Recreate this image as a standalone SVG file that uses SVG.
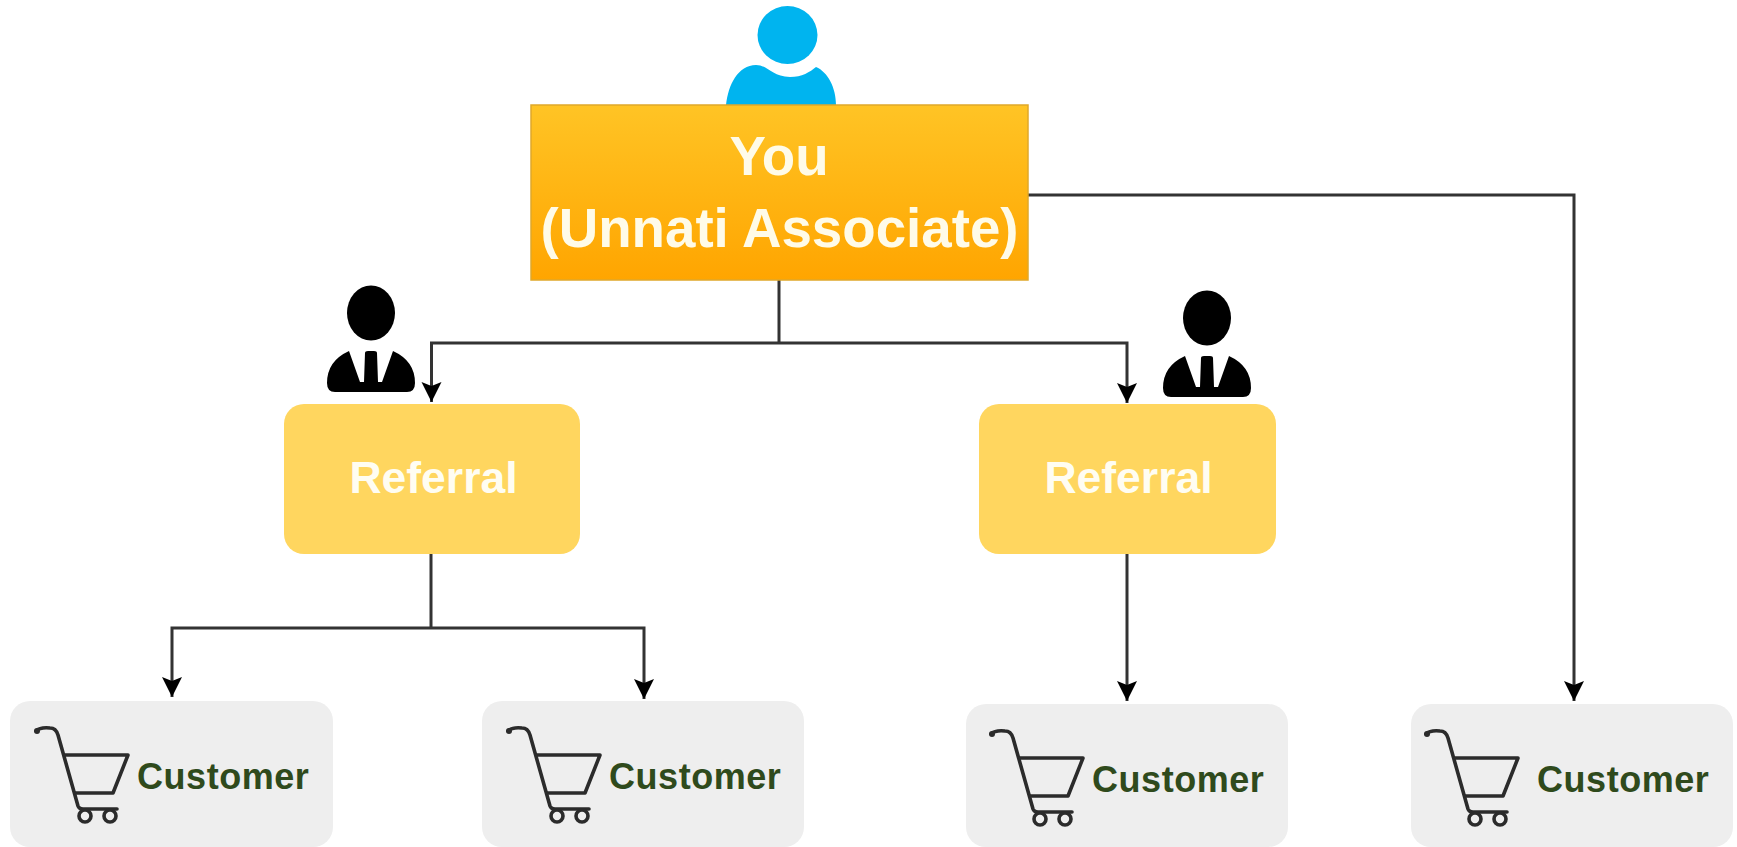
<svg xmlns="http://www.w3.org/2000/svg" xmlns:xlink="http://www.w3.org/1999/xlink" width="1737" height="847" viewBox="0 0 1737 847">
<style>
text{font-family:"Liberation Sans",Arial,sans-serif;font-weight:bold;text-anchor:middle}
.main{font-size:54.7px;fill:#fffbe8}
.ref{fill:#ffd65f}
.reft{font-size:44.5px;fill:#fffdf2}
.cust{fill:#eeeeee}
.custt{font-size:36px;letter-spacing:.55px;fill:#2f4a1c;text-anchor:start}
.conn{fill:none;stroke:#333;stroke-width:3}
.cart{fill:none;stroke:#2b2b2b;stroke-width:3.6;stroke-linejoin:round;stroke-linecap:round}
</style>
<defs>
<linearGradient id="g" x1="0" y1="0" x2="0" y2="1"><stop offset="0" stop-color="#ffc425"/><stop offset="1" stop-color="#ffa500"/></linearGradient>
<marker id="a" markerUnits="userSpaceOnUse" markerWidth="22" markerHeight="22" refX="21" refY="11" orient="auto"><path d="M21 11 L1 1 L5 11 L1 21Z" fill="#000"/></marker>
<g id="cart" class="cart">
<path d="M36 731 Q40 727 50 728 Q56 728 58 735 L78 806 Q79 809 83 809 H117"/>
<path d="M65 755 H128 L113 793 H75"/>
<circle cx="85" cy="816" r="6"/><circle cx="110" cy="816" r="6"/>
<circle cx="37" cy="731" r="3" fill="#2b2b2b" stroke="none"/>
</g>
<g id="biz"><ellipse cx="0" cy="0" rx="24" ry="27.500"/><path d="M-44 70 Q-44 48 -22 38 L-11 69 H-7 L-6 40 Q-6 38 -3 38 H3 Q6 38 6 40 L7 69 H11 L22 38 Q44 48 44 70 Q44 79 36 79 H-36 Q-44 79 -44 70Z"/></g>
</defs>
<g id="connectors">
<path class="conn" d="M1028 195 H1574 V701" marker-end="url(#a)"/>
<path class="conn" d="M779 280 V343"/>
<path class="conn" d="M779 343 H431.500 V402" marker-end="url(#a)"/>
<path class="conn" d="M779 343 H1127 V403" marker-end="url(#a)"/>
<path class="conn" d="M431 553 V628"/>
<path class="conn" d="M431 628 H172 V697" marker-end="url(#a)"/>
<path class="conn" d="M431 628 H644 V699" marker-end="url(#a)"/>
<path class="conn" d="M1127 553 V701" marker-end="url(#a)"/>
</g>
<g id="you-icon" fill="#00b4ef">
<ellipse cx="787.500" cy="35" rx="30" ry="29"/>
<path d="M726 105 C728 85 738 65 756 65 C768 65 772 77 790 77 C802 77 810 72 816 67 C828 72 836 88 836 105Z"/>
</g>
<g id="you">
<rect x="531" y="105" width="497" height="175" fill="url(#g)" stroke="#e0a82a" stroke-width="1.500"/>
<text class="main" x="779" y="175">You</text>
<text class="main" x="779.500" y="247">(Unnati Associate)</text>
</g>
<g id="referral-1">
<use xlink:href="#biz" href="#biz" x="371" y="313"/>
<rect class="ref" x="284" y="404" width="296" height="150" rx="20"/>
<text class="reft" x="433.500" y="493">Referral</text>
</g>
<g id="referral-2">
<use xlink:href="#biz" href="#biz" x="1207" y="318"/>
<rect class="ref" x="979" y="404" width="297" height="150" rx="20"/>
<text class="reft" x="1128.500" y="493">Referral</text>
</g>
<g id="customer-1">
<rect class="cust" x="10" y="701" width="323" height="146" rx="20"/>
<use xlink:href="#cart" href="#cart"/>
<text class="custt" x="137" y="789">Customer</text>
</g>
<g id="customer-2">
<rect class="cust" x="482" y="701" width="322" height="146" rx="20"/>
<use xlink:href="#cart" href="#cart" x="472"/>
<text class="custt" x="609" y="789">Customer</text>
</g>
<g id="customer-3">
<rect class="cust" x="966" y="704" width="322" height="143" rx="20"/>
<use xlink:href="#cart" href="#cart" x="955" y="3"/>
<text class="custt" x="1092" y="792">Customer</text>
</g>
<g id="customer-4">
<rect class="cust" x="1411" y="704" width="322" height="143" rx="20"/>
<use xlink:href="#cart" href="#cart" x="1390" y="3"/>
<text class="custt" x="1537" y="792">Customer</text>
</g>
</svg>
